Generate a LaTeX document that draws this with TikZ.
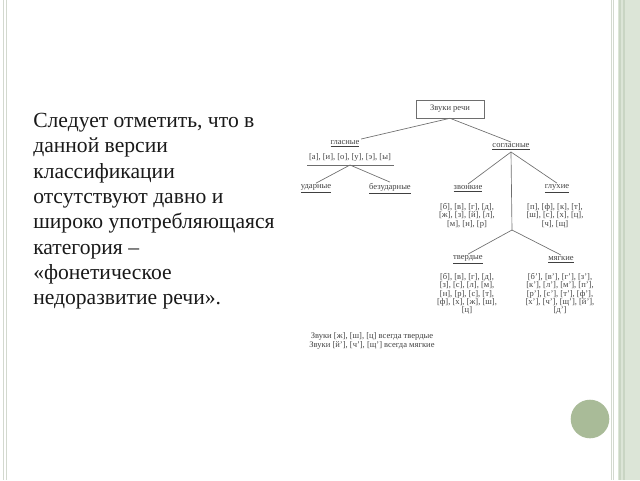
\documentclass[tikz,border=0pt]{standalone}
\usepackage{fontspec}
\setmainfont{Liberation Serif}
\definecolor{framegray}{HTML}{D3D9CF}
\definecolor{bandgreen}{HTML}{DCE5D7}
\definecolor{stripegreen}{HTML}{C9D5C3}
\definecolor{dotgreen}{HTML}{A9BB98}
\definecolor{linegray}{HTML}{6E6E6E}
\tikzset{
	lbl/.style={font=\fontsize{6.4}{6.2}\selectfont, inner sep=1pt, align=center, text=black!75},
	box/.style={lbl, draw=linegray, minimum width=51pt, minimum height=13.5pt},
	conn/.style={draw=linegray, line width=0.5pt}
}
\begin{document}
\begin{tikzpicture}[x=0.75pt,y=-0.75pt]
	\useasboundingbox (0,0) rectangle (640,480);
	% frame of the slide
	\draw[framegray, line width=0.6pt] (3.3,0) -- (3.3,480);
	\draw[framegray, line width=1.2pt] (6.5,0) -- (6.5,480);
	\draw[framegray, line width=0.8pt] (611.5,0) -- (611.5,480);
	\draw[framegray, line width=0.8pt] (613.8,0) -- (613.8,480);
	\fill[bandgreen] (618,0) rectangle (640,480);
	\fill[stripegreen] (618.5,0) rectangle (620.5,480);
	\fill[stripegreen] (623,0) rectangle (624.5,480);
	\fill[dotgreen] (590,419) circle (19.3);
	% text of the slide
	\node[anchor=north west, inner sep=0, align=left, font=\fontsize{16.2}{19}\selectfont, text=black!90] (txt) at (33,113)
		{Следует отметить, что в\\данной версии\\классификации\\отсутствуют давно и\\широко употребляющаяся\\категория –\\«фонетическое\\недоразвитие речи».};
	% tree
	\node[box] (zvuki) at (450,109) {Звуки речи};
	\node[lbl] (glasn) at (345,144) {\underline{гласные}};
	\node[lbl] (glist) at (350,157) {[а], [и], [о], [у], [э], [ы]};
	\draw[conn] (307,165) -- (394,165);
	\coordinate (gfork) at (350,165);
	\node[lbl] (udar) at (316,189) {\underline{ударные}};
	\node[lbl] (bezud) at (390,189) {\underline{безударные}};
	\node[lbl] (sogl) at (511,147) {\underline{согласные}};
	\node[lbl] (zvon) at (468,189) {\underline{звонкие}};
	\node[lbl] (gluh) at (557,189) {\underline{глухие}};
	\node[lbl, anchor=north] (zlist) at (467,202) {[б], [в], [г], [д],\\{}[ж], [з], [й], [л],\\{}[м], [н], [р]};
	\node[lbl, anchor=north] (glist2) at (555,202) {[п], [ф], [к], [т],\\{}[ш], [с], [х], [ц],\\{}[ч], [щ]};
	\coordinate (sfork) at (512,230);
	\node[lbl] (tverd) at (468,260) {\underline{твердые}};
	\node[lbl] (myag) at (561,260) {\underline{мягкие}};
	\node[lbl, anchor=north] (tlist) at (467,272) {[б], [в], [г], [д],\\{}[з], [с], [л], [м],\\{}[н], [р], [с], [т],\\{}[ф], [х], [ж], [ш],\\{}[ц]};
	\node[lbl, anchor=north] (mlist) at (560,272) {[б'], [в'], [г'], [з'],\\{}[к'], [л'], [м'], [п'],\\{}[р'], [с'], [т'], [ф'],\\{}[х'], [ч'], [щ'], [й'],\\{}[д']};
	\node[lbl] (note) at (372,341) {Звуки [ж], [ш], [ц] всегда твердые\\Звуки [й'], [ч'], [щ'] всегда мягкие};
	\draw[conn] (zvuki.south) -- (glasn.north east);
	\draw[conn] (zvuki.south) -- (sogl.north);
	\draw[conn] (gfork) -- (udar.north);
	\draw[conn] (gfork) -- (bezud.north);
	\draw[conn] (sogl.south) -- (zvon.north);
	\draw[conn] (sogl.south) -- (gluh.north);
	\draw[conn] (sogl.south) -- (sfork);
	\draw[conn] (sfork) -- (tverd.north);
	\draw[conn] (sfork) -- (myag.north);
\end{tikzpicture}
\end{document}
